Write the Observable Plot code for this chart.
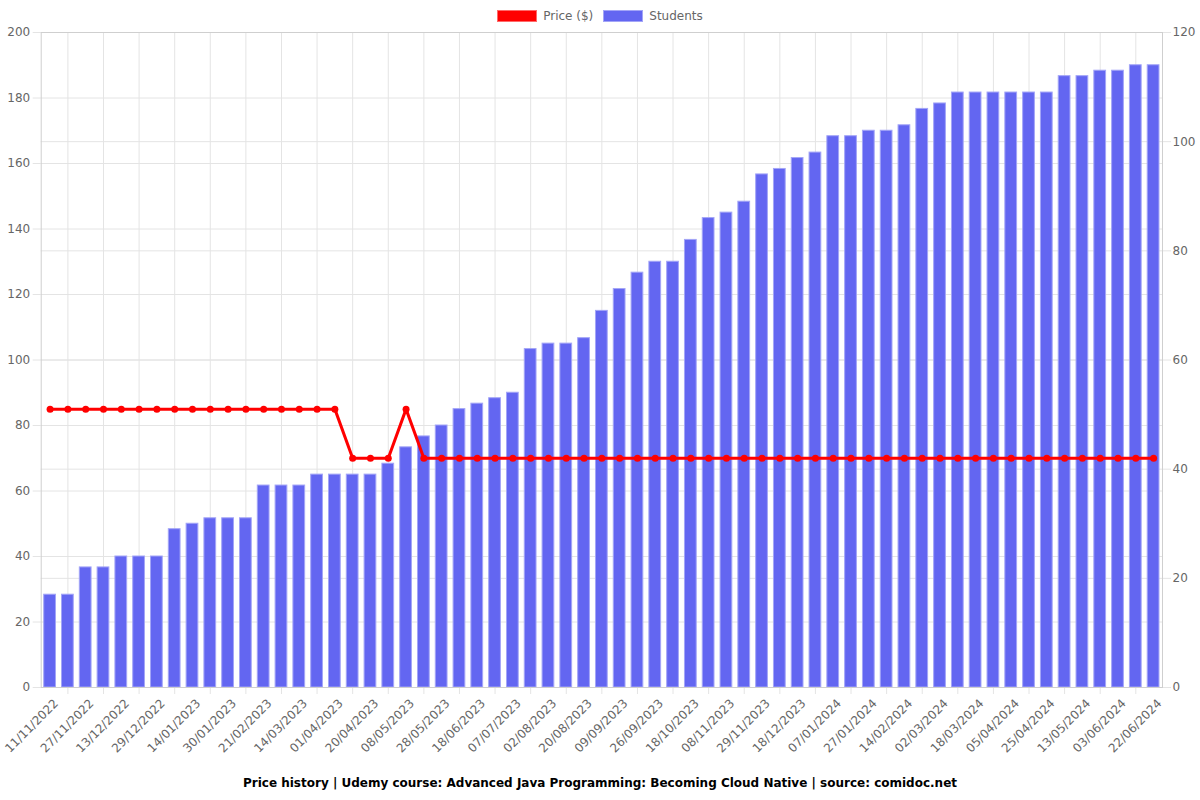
<!DOCTYPE html>
<html>
<head>
<meta charset="utf-8">
<script src="https://cdn.jsdelivr.net/npm/d3@7"></script>
<script src="https://cdn.jsdelivr.net/npm/@observablehq/plot@0.6"></script>
<style>
  html, body { margin: 0; padding: 0; background: #fff; }
  body { width: 1200px; font-family: "DejaVu Sans", sans-serif; }
  #legend { height: 24px; position: relative; }
  #legend .items { position: absolute; top: 9px; left: 0; width: 1200px; height: 14px;
    display: flex; justify-content: center; align-items: center; font-size: 12px; color: #666; }
  #legend .box { width: 40px; height: 12px; box-sizing: border-box; margin-right: 6px; }
  #legend .item { display: flex; align-items: center; margin: 0 5px; }
  #chart svg { display: block; overflow: visible; }
  #title { height: 26px; line-height: 26px; text-align: center; font-weight: bold; font-size: 12px; color: #000; }
</style>
</head>
<body>
<div id="legend"><div class="items">
  <div class="item"><div class="box" style="background:#ff0000;border:1.5px solid #ff6a6a"></div><span>Price ($)</span></div>
  <div class="item"><div class="box" style="background:#6366f1;border:1.5px solid #a3a5f7"></div><span>Students</span></div>
</div></div>
<div id="chart"></div>
<div id="title">Price history | Udemy course: Advanced Java Programming: Becoming Cloud Native | source: comidoc.net</div>
<script>
const dateLabels = ["11/11/2022","27/11/2022","13/12/2022","29/12/2022","14/01/2023","30/01/2023","21/02/2023","14/03/2023","01/04/2023","20/04/2023","08/05/2023","28/05/2023","18/06/2023","07/07/2023","02/08/2023","20/08/2023","09/09/2023","26/09/2023","18/10/2023","08/11/2023","29/11/2023","18/12/2023","07/01/2024","27/01/2024","14/02/2024","02/03/2024","18/03/2024","05/04/2024","25/04/2024","13/05/2024","03/06/2024","22/06/2024"];

const students = [17,17,22,22,24,24,24,29,30,31,31,31,37,37,37,39,39,39,39,41,44,46,48,51,52,53,54,62,63,63,64,69,73,76,78,78,82,86,87,89,94,95,97,98,101,101,102,102,103,106,107,109,109,109,109,109,109,112,112,113,113,114,114];

const prices = [85,85,85,85,85,85,85,85,85,85,85,85,85,85,85,85,85,70,70,70,85,
  70,70,70,70,70,70,70,70,70,70,70,70,70,70,70,70,70,70,70,70,70,
  70,70,70,70,70,70,70,70,70,70,70,70,70,70,70,70,70,70,70,70,70];

const priceTicks = [0,20,40,60,80,100,120,140,160,180,200];
const studentTicks = [0,20,40,60,80,100,120];

const k = 200 / 120; // students -> price-axis units
const idx = d3.range(students.length);
const rows = idx.map(i => ({i, price: prices[i], st: students[i] * k}));
const evenIdx = idx.filter(i => i % 2 === 0);
const oddIdx = idx.filter(i => i % 2 === 1);
const gridColor = "#e4e4e4";

const chart = Plot.plot({
  width: 1200, height: 746,
  marginTop: 8, marginBottom: 83, marginLeft: 40.7, marginRight: 38,
  style: {fontFamily: "DejaVu Sans", fontSize: "12px", background: "#fff", overflow: "visible"},
  x: {type: "band", domain: idx, paddingInner: 0.34, paddingOuter: 0.17, axis: null},
  y: {domain: [0, 200], axis: null},
  marks: [
    Plot.gridY(priceTicks, {stroke: gridColor, strokeOpacity: 1}),
    Plot.gridY(studentTicks.map(v => v * k), {stroke: gridColor, strokeOpacity: 1}),
    Plot.gridX(oddIdx, {stroke: gridColor, strokeOpacity: 1}),
    Plot.axisY(priceTicks, {anchor: "left", tickSize: 8, tickPadding: 3, stroke: gridColor, strokeOpacity: 1, fill: "#666", label: null}),
    Plot.axisY(studentTicks.map(v => v * k), {anchor: "right", tickSize: 8, tickPadding: 2, stroke: gridColor, strokeOpacity: 1, fill: "#666", label: null, tickFormat: v => String(Math.round(v / k))}),
    Plot.axisX(oddIdx, {tickSize: 7, tickFormat: () => "", stroke: gridColor, strokeOpacity: 1, label: null}),
    Plot.axisX(evenIdx, {tickSize: 0, tickPadding: 8, tickRotate: -45, dx: 6, dy: 6, tickFormat: i => dateLabels[i / 2], fill: "#666", label: null}),
    Plot.barY(rows, {x: "i", y: "st", fill: "#6366f1", stroke: "#a3a5f7", strokeWidth: 1}),
    Plot.frame({stroke: "#cfcfcf"}),
    Plot.line(rows, {x: "i", y: "price", stroke: "#ff0000", strokeWidth: 3}),
    Plot.dot(rows, {x: "i", y: "price", fill: "#ff0000", r: 3.5})
  ]
});
document.getElementById("chart").appendChild(chart);
</script>
</body>
</html>
